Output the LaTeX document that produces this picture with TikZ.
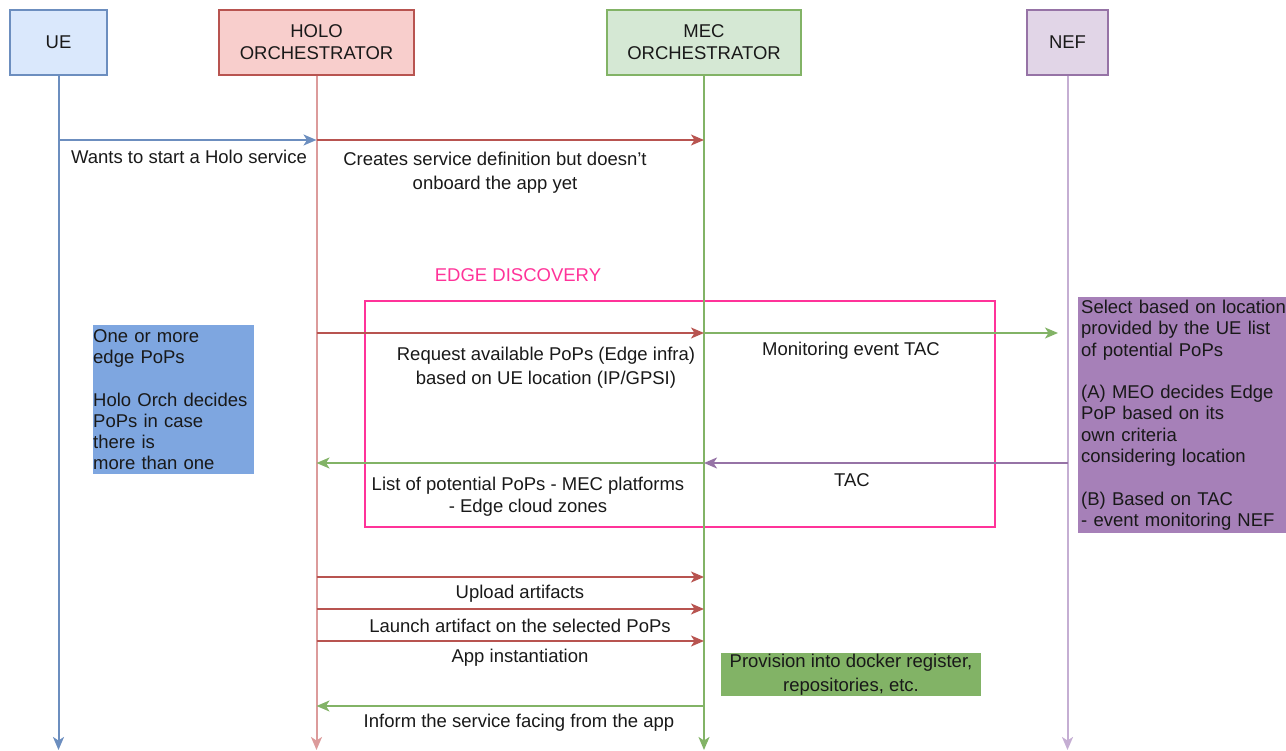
\documentclass[tikz,border=0pt]{standalone}
\usepackage{fontspec}
\setmainfont{Liberation Sans}
\usetikzlibrary{arrows.meta}

\definecolor{ueline}{HTML}{6C8EBF}
\definecolor{uefill}{HTML}{DAE8FC}
\definecolor{hololine}{HTML}{B85450}
\definecolor{holofill}{HTML}{F8CECC}
\definecolor{hololife}{HTML}{DC9B9B}
\definecolor{mecline}{HTML}{82B366}
\definecolor{mecfill}{HTML}{D5E8D4}
\definecolor{nefline}{HTML}{9673A6}
\definecolor{neffill}{HTML}{E1D5E7}
\definecolor{neflife}{HTML}{C5AED3}
\definecolor{edgepink}{HTML}{FF3399}
\definecolor{notebluefill}{HTML}{7EA6E0}
\definecolor{notepurplefill}{HTML}{A680B8}
\definecolor{notegreenfill}{HTML}{82B366}

\begin{document}
\begin{tikzpicture}[x=1pt,y=-1pt,
  txt/.style={font=\fontsize{18.5}{22}\selectfont, text=black!90, inner sep=0pt},
  actor/.style={txt, draw, line width=1.3pt, minimum height=65pt, align=center},
  tip/.style={-{Stealth[length=13pt,width=11pt,inset=3.5pt]}},
  lifeline/.style={line width=2pt, tip},
  msg/.style={line width=1.7pt, tip},
  lbl/.style={txt, align=center},
  note/.style={txt, font=\fontsize{18.5}{21.3}\selectfont, align=left, inner xsep=0pt, inner ysep=0pt}
]
\useasboundingbox (0,0) rectangle (1286,751);

% participants
\node[actor, draw=ueline, fill=uefill, minimum width=97pt] (ue) at (58.5,42.5) {UE};
\node[actor, draw=hololine, fill=holofill, minimum width=195pt] (holo) at (316.5,42.5) {HOLO\\ORCHESTRATOR};
\node[actor, draw=mecline, fill=mecfill, minimum width=194pt] (mec) at (704,42.5) {MEC\\ORCHESTRATOR};
\node[actor, draw=nefline, fill=neffill, minimum width=81pt] (nef) at (1067.5,42.5) {NEF};

% ends of the lifelines
\coordinate (ueEnd) at (58.5,750);
\coordinate (holoEnd) at (316.5,750);
\coordinate (mecEnd) at (704,750);
\coordinate (nefEnd) at (1067.5,750);

% edge discovery frame
\node[lbl, text=edgepink] (edgeTitle) at (518,275) {EDGE DISCOVERY};
\draw[edgepink, line width=1.5pt] (365,301) rectangle (995,527);

% lifelines
\draw[lifeline, ueline] (ue.south) -- (ueEnd);
\draw[lifeline, hololife] (holo.south) -- (holoEnd);
\draw[lifeline, mecline] (mec.south) -- (mecEnd);
\draw[lifeline, neflife] (nef.south) -- (nefEnd);

% anchor points of the messages on the lifelines
\coordinate (ue1) at (58.5,140);
\coordinate (ho1) at (316.5,140);
\coordinate (me1) at (704,140);
\coordinate (ho2) at (316.5,333);
\coordinate (me2) at (704,333);
\coordinate (nf2) at (1058,333);
\coordinate (ho3) at (316.5,463);
\coordinate (me3) at (704,463);
\coordinate (nf3) at (1067.5,463);
\coordinate (ho4) at (316.5,577);
\coordinate (me4) at (704,577);
\coordinate (ho5) at (316.5,609);
\coordinate (me5) at (704,609);
\coordinate (ho6) at (316.5,641);
\coordinate (me6) at (704,641);
\coordinate (ho7) at (316.5,706);
\coordinate (me7) at (704,706);

% messages
\draw[msg, ueline] (ue1) -- (ho1);
\draw[msg, hololine] (ho1) -- (me1);
\draw[msg, hololine] (ho2) -- (me2);
\draw[msg, mecline] (me2) -- (nf2);
\draw[msg, nefline] (nf3) -- (me3);
\draw[msg, mecline] (me3) -- (ho3);
\draw[msg, hololine] (ho4) -- (me4);
\draw[msg, hololine] (ho5) -- (me5);
\draw[msg, hololine] (ho6) -- (me6);
\draw[msg, mecline] (me7) -- (ho7);

% message labels
\node[lbl] (m1) at (189,157) {Wants to start a Holo service};
\node[lbl, font=\fontsize{18.5}{24}\selectfont] (m2) at (495,173) {Creates service definition but doesn't\\onboard the app yet};
\node[lbl, font=\fontsize{18.5}{24}\selectfont] (m3) at (546,368) {Request available PoPs (Edge infra)\\based on UE location (IP/GPSI)};
\node[lbl] (m4) at (851,351) {Monitoring event TAC};
\node[lbl] (m5) at (852,480) {TAC};
\node[lbl] (m6) at (528,497) {List of potential PoPs - MEC platforms\\- Edge cloud zones};
\node[lbl] (m7) at (520,594) {Upload artifacts};
\node[lbl] (m8) at (520,626) {Launch artifact on the selected PoPs};
\node[lbl] (m9) at (520,658) {App instantiation};
\node[lbl] (m10) at (519,723) {Inform the service facing from the app};

% notes
\node[note, fill=notebluefill, anchor=north west, text width=161pt, minimum height=149pt] (noteHolo) at (93,325)
  {One or more\\edge PoPs\\[21.3pt]Holo Orch decides\\PoPs in case\\there is\\more than one};
\node[note, fill=notepurplefill, anchor=north west, text width=212pt, minimum height=236pt, inner xsep=3pt] (noteNef) at (1078,297)
  {Select based on location\\provided by the UE list\\of potential PoPs\\[21.3pt](A) MEO decides Edge\\PoP based on its\\own criteria\\considering location\\[21.3pt](B) Based on TAC\\- event monitoring NEF};
\node[lbl, font=\fontsize{18.5}{24}\selectfont, fill=notegreenfill, minimum width=260pt, minimum height=43pt] (noteMec) at (851,674.5)
  {Provision into docker register,\\repositories, etc.};
\end{tikzpicture}
\end{document}
